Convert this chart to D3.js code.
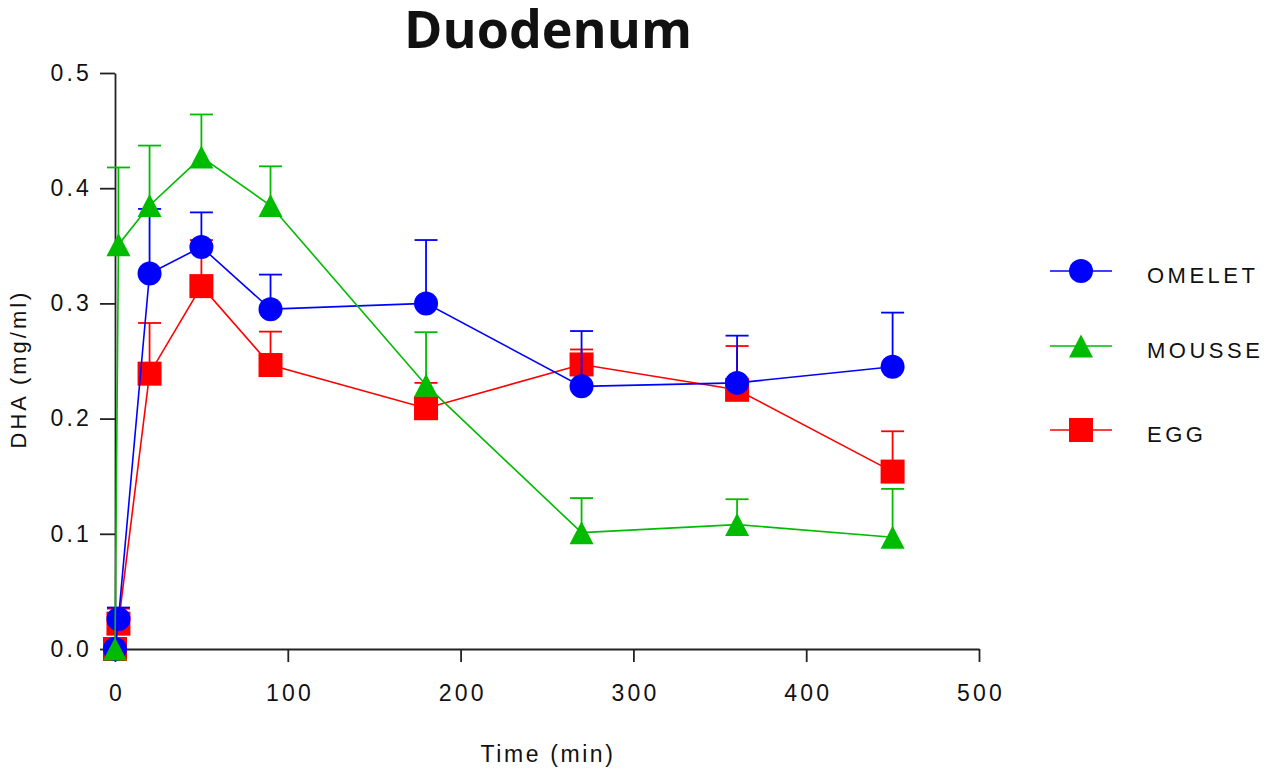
<!DOCTYPE html>
<html>
<head>
<meta charset="utf-8">
<script src="https://cdn.jsdelivr.net/npm/d3@7"></script>
<style>
  body { margin: 0; background: #fff; }
  svg text { font-family: "Liberation Sans", Arial, sans-serif; fill: #111; }
</style>
</head>
<body>
<div id="chart"></div>
<script>
// data
var times = [0, 2, 20, 50, 90, 180, 270, 360, 450];

var omelet    = [0, 0.026, 0.326, 0.349, 0.295, 0.300, 0.228, 0.231, 0.245];
var omeletErr = [0, 0.010, 0.056, 0.030, 0.030, 0.055, 0.048, 0.041, 0.047];

var mousse    = [0, 0.351, 0.385, 0.427, 0.385, 0.229, 0.101, 0.108, 0.097];
var mousseErr = [0, 0.067, 0.052, 0.037, 0.034, 0.046, 0.030, 0.022, 0.042];

var egg    = [0, 0.022, 0.239, 0.315, 0.2465, 0.209, 0.247, 0.225, 0.154];
var eggErr = [0, 0.013, 0.044, 0.040, 0.029, 0.022, 0.013, 0.038, 0.035];

var xTicks = [0, 100, 200, 300, 400, 500];
var yTicks = [0, 0.1, 0.2, 0.3, 0.4, 0.5];

var seriesNames = ["OMELET", "MOUSSE", "EGG"];

var width = 1266, height = 769;
var margin = {top: 73, left: 115, right: 287, bottom: 120};

var svg = d3.select("#chart").append("svg")
    .attr("width", width)
    .attr("height", height);

var x = d3.scaleLinear().domain([0, 500]).range([margin.left, width - margin.right]);
var y = d3.scaleLinear().domain([0, 0.5]).range([height - margin.bottom, margin.top]);

// series setup (draw order: egg, omelet, mousse)
var series = [
    {name: seriesNames[2], vals: egg, err: eggErr, color: "#ff0000", shape: "square"},
    {name: seriesNames[0], vals: omelet, err: omeletErr, color: "#0000ff", shape: "circle"},
    {name: seriesNames[1], vals: mousse, err: mousseErr, color: "#00bb00", shape: "triangle"}
];

function drawMarker(g, shape, color) {
    if (shape == "circle") {
        g.append("circle").attr("r", 12).attr("fill", color);
    } else if (shape == "square") {
        g.append("rect").attr("x", -12).attr("y", -12).attr("width", 24).attr("height", 24).attr("fill", color);
    } else {
        g.append("path").attr("d", "M0,-11.5L12,11.5L-12,11.5Z").attr("fill", color);
    }
}

// axes
var xAxis = svg.append("g")
    .attr("transform", "translate(0," + y(0) + ")")
    .call(d3.axisBottom(x).tickValues(xTicks).tickSize(13).tickSizeOuter(0).tickPadding(23));

var yAxis = svg.append("g")
    .attr("transform", "translate(" + x(0) + ",0)")
    .call(d3.axisLeft(y).tickValues(yTicks).tickFormat(d3.format(".1f")).tickSize(15).tickSizeOuter(0).tickPadding(8));

[xAxis, yAxis].forEach(function(a) {
    a.select(".domain").attr("stroke", "#222").attr("stroke-width", 1.8);
    a.selectAll(".tick line").attr("stroke", "#222").attr("stroke-width", 1.8);
    a.selectAll(".tick text")
        .attr("fill", "#111")
        .style("font-size", "23px")
        .style("letter-spacing", "3.2px");
});
xAxis.selectAll(".tick text").attr("dx", "1.6px");

// lines, error bars, markers
var line = d3.line()
    .x(function(d, i) { return x(times[i]); })
    .y(function(d) { return y(d); });

series.forEach(function(s) {
    var g = svg.append("g");

    g.append("path")
        .datum(s.vals)
        .attr("d", line)
        .attr("fill", "none")
        .attr("stroke", s.color)
        .attr("stroke-width", 1.6);

    var pts = s.vals.map(function(v, i) { return {t: times[i], v: v, e: s.err[i]}; })
        .filter(function(p) { return p.e > 0; });

    var bars = g.append("g")
        .attr("stroke", s.color)
        .attr("stroke-width", 1.8)
        .selectAll("g")
        .data(pts)
        .join("g");

    bars.append("line")
        .attr("x1", function(d) { return x(d.t); })
        .attr("x2", function(d) { return x(d.t); })
        .attr("y1", function(d) { return y(d.v); })
        .attr("y2", function(d) { return y(d.v + d.e); });

    bars.append("line")
        .attr("x1", function(d) { return x(d.t) - 11.5; })
        .attr("x2", function(d) { return x(d.t) + 11.5; })
        .attr("y1", function(d) { return y(d.v + d.e); })
        .attr("y2", function(d) { return y(d.v + d.e); });

    s.vals.forEach(function(v, i) {
        var m = g.append("g").attr("transform", "translate(" + x(times[i]) + "," + y(v) + ")");
        drawMarker(m, s.shape, s.color);
    });
});

// title and axis labels
svg.append("text")
    .attr("x", 548)
    .attr("y", 48)
    .attr("text-anchor", "middle")
    .style("font-family", "'Open Sans', sans-serif")
    .style("font-weight", "bold")
    .style("font-size", "52px")
    .text("Duodenum");

svg.append("text")
    .attr("x", 548)
    .attr("y", 762)
    .attr("text-anchor", "middle")
    .style("font-size", "23px")
    .style("letter-spacing", "2.6px")
    .text("Time (min)");

svg.append("text")
    .attr("transform", "translate(26,369) rotate(-90)")
    .attr("text-anchor", "middle")
    .style("font-size", "22px")
    .style("letter-spacing", "3px")
    .text("DHA (mg/ml)");

// legend
var legendRows = [271, 346, 430];
var legendOrder = [series[1], series[2], series[0]];

legendOrder.forEach(function(s, i) {
    var lg = svg.append("g").attr("transform", "translate(1081," + legendRows[i] + ")");
    lg.append("line")
        .attr("x1", -31).attr("x2", 31)
        .attr("stroke", s.color)
        .attr("stroke-width", 1.6);
    drawMarker(lg, s.shape, s.color);
    lg.append("text")
        .attr("x", 66)
        .attr("y", 12)
        .style("font-size", "22px")
        .style("letter-spacing", "3.5px")
        .text(s.name);
});
</script>
</body>
</html>
